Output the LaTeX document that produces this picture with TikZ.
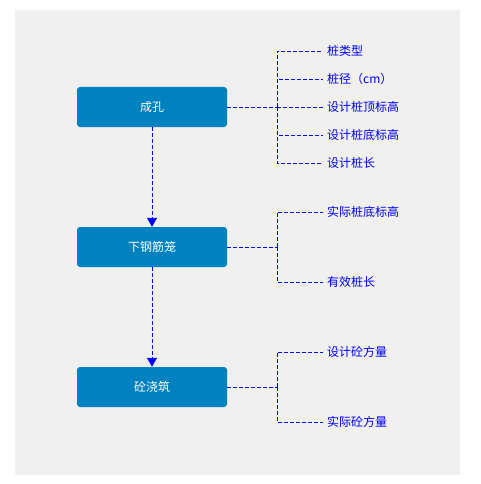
\documentclass[tikz,border=0pt]{standalone}
\usepackage{fontspec}
\newfontfamily\cjk{Noto Sans CJK SC}
\usetikzlibrary{arrows.meta}
\definecolor{boxblue}{HTML}{0082C0}
\definecolor{bggray}{HTML}{F0F0F0}
\definecolor{linkblue}{HTML}{0000FF}
\tikzset{
    stepbox/.style={fill=boxblue, rounded corners=3pt, minimum width=150pt, minimum height=40pt, text=white, font=\cjk\fontsize{12}{14}\selectfont},
    leaf/.style={anchor=west, inner xsep=4pt, inner ysep=0pt, text=linkblue, font=\cjk\fontsize{12}{14}\selectfont},
    link/.style={linkblue, line width=0.9pt, dash pattern=on 4pt off 2pt},
}

\begin{document}
\begin{tikzpicture}[x=1pt,y=-1pt]
    \useasboundingbox (0,0) rectangle (480,484);
    \fill[bggray] (15,10) rectangle (460,475);
    \node[stepbox] (hole) at (152,107) {成孔};
    \node[stepbox] (cage) at (152,247) {下钢筋笼};
    \node[stepbox] (pour) at (152,387) {砼浇筑};
    \draw[link, -{Triangle[width=10pt,length=9pt]}] (hole) -- (cage);
    \draw[link, -{Triangle[width=10pt,length=9pt]}] (cage) -- (pour);
    \coordinate (holehub) at (277,107); \coordinate (cagehub) at (277,247); \coordinate (pourhub) at (277,387);
    \draw[link] (hole.east) -- (holehub);
    \draw[link] (cage.east) -- (cagehub);
    \draw[link] (pour.east) -- (pourhub);
    \foreach \y/\t/\n in {51/桩类型/type, 79/桩径（cm）/dia, 107/设计桩顶标高/top, 135/设计桩底标高/bottom, 163/设计桩长/len} {
        \node[leaf] (\n) at (323,\y) {\t};
        \draw[link] (holehub) |- (\n.west);
    }
    \foreach \y/\t/\n in {212/实际桩底标高/realbottom, 282/有效桩长/efflen} {
        \node[leaf] (\n) at (323,\y) {\t};
        \draw[link] (cagehub) |- (\n.west);
    }
    \foreach \y/\t/\n in {352/设计砼方量/planvol, 422/实际砼方量/realvol} {
        \node[leaf] (\n) at (323,\y) {\t};
        \draw[link] (pourhub) |- (\n.west);
    }
\end{tikzpicture}
\end{document}
